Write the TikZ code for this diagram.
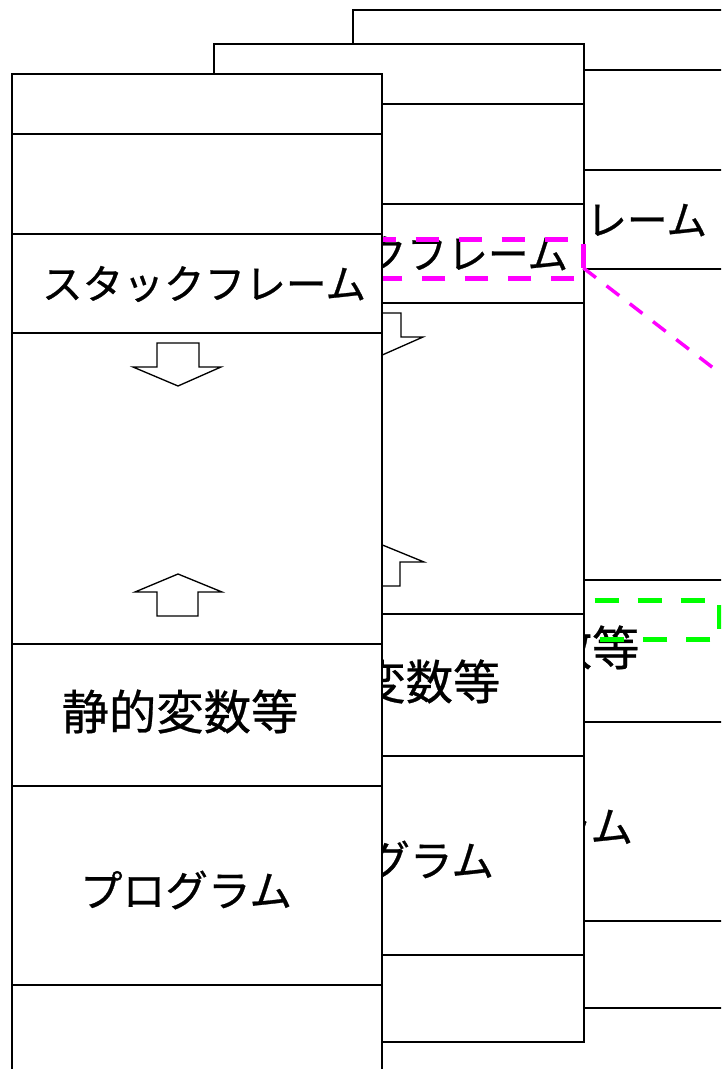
\documentclass[tikz,border=0pt]{standalone}
\usepackage{fontspec}
\newfontfamily\jpfont[FakeBold=0.6]{Noto Sans CJK JP}
\definecolor{magA}{RGB}{255,0,255}
\definecolor{grnA}{RGB}{0,255,0}
\tikzset{
  colframe/.style={line width=1.4pt, fill=white},
  colline/.style={line width=1.4pt},
  hollow/.style={line width=1pt, fill=white, line join=miter},
  lbl/.style={font=\jpfont\fontsize{#1}{#1}\selectfont, inner sep=0pt},
  markbox/.style={minimum width=254.25pt, minimum height=28.5pt, inner sep=0pt},
  pinkdash/.style={draw=magA, line width=3.4pt, dash pattern=on 17.5pt off 14.75pt},
  greendash/.style={draw=grnA, line width=3.6pt, dash pattern=on 18pt off 14.25pt},
  pinkline/.style={draw=magA, line width=2.6pt, dash pattern=on 12pt off 10pt}
}
% una columna de memoria: #1 desplazamiento, #2 prefijo de nombres
\newcommand{\memcol}[2]{%
\begin{scope}[shift={#1}]
  \draw[colframe] (0,0) rectangle (370,998); %marco
  \draw[colline] (0,60) -- (370,60);
  \draw[colline] (0,160) -- (370,160);
  \draw[colline] (0,259) -- (370,259);
  \draw[colline] (0,570) -- (370,570);
  \draw[colline] (0,712) -- (370,712);
  \draw[colline] (0,911) -- (370,911);
  \draw[hollow] (145,269) -- (187,269) -- (187,293) -- (209,293) -- (166,312) -- (121,293) -- (145,293) -- cycle; %flecha abajo
  \draw[hollow] (166,500) -- (210,518) -- (186,518) -- (186,542) -- (145,542) -- (145,518) -- (123,518) -- cycle; %flecha arriba
  \node[lbl=30.5] (#2stack) at (192,210) {スタックフレーム};
  \node[lbl=35.5] (#2static) at (168,637.5) {静的変数等};
  \node[lbl=32] (#2prog) at (174,816) {プログラム};
\end{scope}}

\begin{document}
\begin{tikzpicture}[x=0.75pt,y=-0.75pt]
  \useasboundingbox (0,0) rectangle (721,1069);
  \clip (0,0) rectangle (721,1069);
  \memcol{(353,10)}{cc} %columna 3
  \node[markbox] (boxG) at (549.5,620) {};
  \draw[greendash] (boxG.north west) -- (boxG.north east) -- (boxG.south east) -- (boxG.south west) -- cycle; %recuadro verde
  \memcol{(214,44)}{cb} %columna 2
  \node[markbox] (boxM) at (413.5,259) {};
  \draw[pinkdash] (boxM.north west) -- (boxM.north east) -- (boxM.south east) -- (boxM.south west) -- cycle; %recuadro magenta
  \coordinate (farM) at (760,404);
  \draw[pinkline] (boxM.-3) -- (farM); %linea hacia la ampliacion
  \memcol{(12,74)}{ca} %columna 1
\end{tikzpicture}
\end{document}
